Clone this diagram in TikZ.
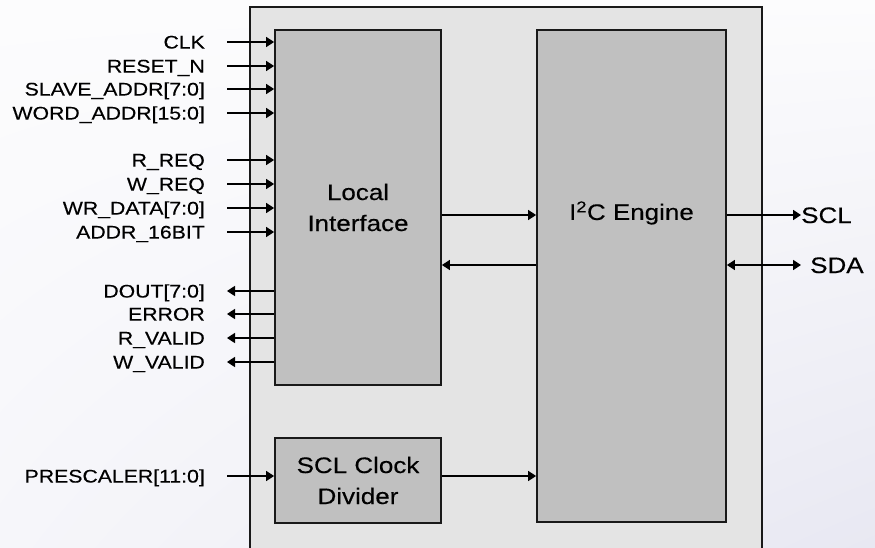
\documentclass[tikz,border=0pt]{standalone}
\usepackage{fontspec}
\setmainfont[FakeStretch=1.16,FakeBold=0.3]{Liberation Sans}
\usetikzlibrary{arrows.meta,calc,positioning,shadings}
\definecolor{chipgray}{RGB}{228,228,228}
\definecolor{blockgray}{RGB}{192,192,192}
\definecolor{bgtop}{RGB}{252,252,253}
\definecolor{bgmid}{RGB}{246,246,250}
\definecolor{bgbot}{RGB}{232,232,242}
\tikzset{
  chipbox/.style={draw=black!90,line width=1.8pt,fill=chipgray,inner sep=0pt},
  block/.style={draw=black!90,line width=1.8pt,fill=blockgray,inner sep=0pt,
    align=center,font=\fontsize{22.4}{31}\selectfont},
  pin/.style={inner sep=0pt,anchor=east,text height=13.1pt,text depth=0pt,
    font=\fontsize{18.3}{20}\selectfont},
  busname/.style={inner sep=0pt,anchor=west,text height=16pt,text depth=0pt,
    font=\fontsize{22.4}{26}\selectfont},
  sig/.style={line width=1.7pt,-{Triangle[length=8pt,width=10pt]}},
}
\begin{document}
\begin{tikzpicture}[x=1pt,y=-1pt]
\useasboundingbox (0,0) rectangle (875,548);
\shade[upper left=bgtop,upper right=bgtop,lower left=bgmid,lower right=bgbot] (0,0) rectangle (875,548);
\node[chipbox,minimum width=512pt,minimum height=553pt] (chip) at (506,283.5) {};
% blocks
\node[block,minimum width=166pt,minimum height=355pt] (local) at (358,207.5) {Local\\Interface};
\node[block,minimum width=189pt,minimum height=492pt] (engine) at (631.5,276) {};
\node[inner sep=0pt,font=\fontsize{22.4}{26}\selectfont] (enginename) at (631.5,213) {I\textsuperscript{2}C Engine};
\node[block,minimum width=166pt,minimum height=85pt] (divider) at (358,480.5) {SCL Clock\\Divider};
% inputs
\node[pin] (clk) at (205,42) {CLK};
\draw[sig] ([xshift=22pt]clk.east) -- (clk -| local.west);
\node[pin] (rstn) at (205,66) {RESET\_N};
\draw[sig] ([xshift=22pt]rstn.east) -- (rstn -| local.west);
\node[pin] (slaveaddr) at (205,89) {SLAVE\_ADDR[7:0]};
\draw[sig] ([xshift=22pt]slaveaddr.east) -- (slaveaddr -| local.west);
\node[pin] (wordaddr) at (205,113) {WORD\_ADDR[15:0]};
\draw[sig] ([xshift=22pt]wordaddr.east) -- (wordaddr -| local.west);
\node[pin] (rreq) at (205,160) {R\_REQ};
\draw[sig] ([xshift=22pt]rreq.east) -- (rreq -| local.west);
\node[pin] (wreq) at (205,184) {W\_REQ};
\draw[sig] ([xshift=22pt]wreq.east) -- (wreq -| local.west);
\node[pin] (wrdata) at (205,208) {WR\_DATA[7:0]};
\draw[sig] ([xshift=22pt]wrdata.east) -- (wrdata -| local.west);
\node[pin] (addrmode) at (205,232) {ADDR\_16BIT};
\draw[sig] ([xshift=22pt]addrmode.east) -- (addrmode -| local.west);
% outputs
\node[pin] (dout) at (205,291) {DOUT[7:0]};
\draw[sig] (dout -| local.west) -- ([xshift=22pt]dout.east);
\node[pin] (err) at (205,314) {ERROR};
\draw[sig] (err -| local.west) -- ([xshift=22pt]err.east);
\node[pin] (rvalid) at (205,338) {R\_VALID};
\draw[sig] (rvalid -| local.west) -- ([xshift=22pt]rvalid.east);
\node[pin] (wvalid) at (205,362) {W\_VALID};
\draw[sig] (wvalid -| local.west) -- ([xshift=22pt]wvalid.east);
% clock divider
\node[pin] (prescaler) at (205,476) {PRESCALER[11:0]};
\draw[sig] ([xshift=22pt]prescaler.east) -- (prescaler -| divider.west);
\draw[sig] (prescaler -| divider.east) -- (prescaler -| engine.west);
% bus side
\node[busname] (scl) at (801,215) {SCL};
\node[busname] (sda) at (810,265) {SDA};
\draw[sig] (local.east |- scl) -- (engine.west |- scl);
\draw[sig] (engine.west |- sda) -- (local.east |- sda);
\draw[sig] (engine.east |- scl) -- (scl.west);
\draw[sig,{Triangle[length=8pt,width=10pt]}-{Triangle[length=8pt,width=10pt]}] (engine.east |- sda) -- ([xshift=-9pt]sda.west);
\end{tikzpicture}
\end{document}
